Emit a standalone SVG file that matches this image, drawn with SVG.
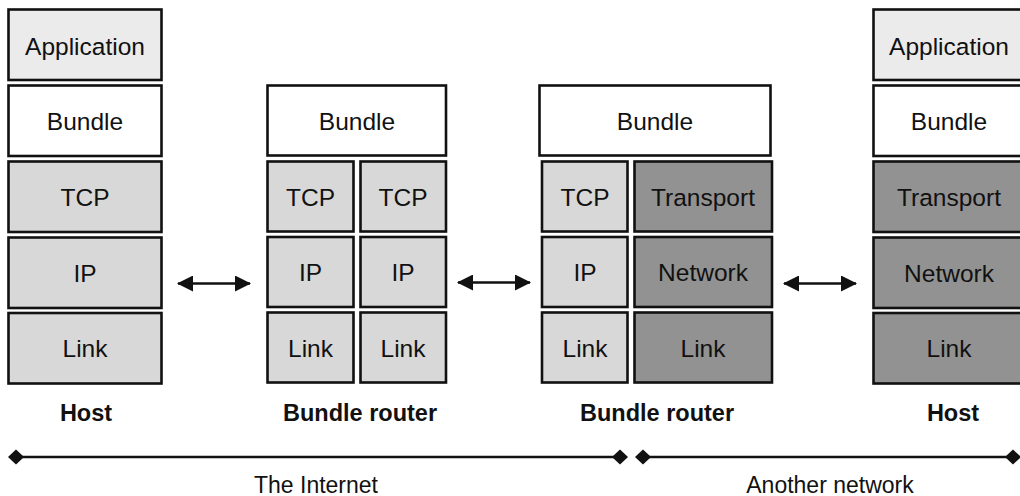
<svg xmlns="http://www.w3.org/2000/svg" width="1020" height="496" viewBox="0 0 1020 496">
<defs>
<style>
.b{stroke:#111;stroke-width:2.6}
.app{fill:#ebebeb}
.bun{fill:#fff}
.lt{fill:#d8d8d8}
.dk{fill:#929292}
text{font-family:"Liberation Sans",Arial,Helvetica,sans-serif;font-size:24.5px;fill:#111;text-anchor:middle}
.lbl{font-weight:bold;font-size:23.5px}
.net{font-size:23px}
.conn{stroke:#111;stroke-width:2.5;fill:none}
</style>
<marker id="ah" viewBox="0 0 16 16" refX="15" refY="8" markerWidth="16" markerHeight="16" markerUnits="userSpaceOnUse" orient="auto-start-reverse">
<path d="M0,0 L16,8 L0,16 Z" fill="#111"/>
</marker>
<marker id="dm" viewBox="0 0 16 16" refX="8" refY="8" markerWidth="16" markerHeight="16" markerUnits="userSpaceOnUse" orient="auto">
<path d="M0,8 L8,0.5 L16,8 L8,15.5 Z" fill="#111"/>
</marker>
</defs>
<rect width="1020" height="496" fill="#fff"/>

<g id="host-left">
<rect class="b app" x="8.5" y="9.5" width="153" height="70.5"/>
<text x="85" y="55">Application</text>
<rect class="b bun" x="8.5" y="85.5" width="153" height="70.5"/>
<text x="85" y="129.5">Bundle</text>
<rect class="b lt" x="8.5" y="161.5" width="153" height="70.5"/>
<text x="85" y="205.5">TCP</text>
<rect class="b lt" x="8.5" y="237.5" width="153" height="70.5"/>
<text x="85" y="281.5">IP</text>
<rect class="b lt" x="8.5" y="313" width="153" height="70.5"/>
<text x="85" y="357">Link</text>
<text class="lbl" x="86" y="421">Host</text>
</g>

<g id="router-1">
<rect class="b bun" x="267.5" y="85.5" width="178.5" height="70"/>
<text x="357" y="129.5">Bundle</text>
<rect class="b lt" x="267.5" y="161.5" width="86" height="70"/>
<text x="310.5" y="205.5">TCP</text>
<rect class="b lt" x="360.5" y="161.5" width="85.5" height="70"/>
<text x="403" y="205.5">TCP</text>
<rect class="b lt" x="267.5" y="237" width="86" height="70"/>
<text x="310.5" y="281">IP</text>
<rect class="b lt" x="360.5" y="237" width="85.5" height="70"/>
<text x="403" y="281">IP</text>
<rect class="b lt" x="267.5" y="312.5" width="86" height="70"/>
<text x="310.5" y="357">Link</text>
<rect class="b lt" x="360.5" y="312.5" width="85.5" height="70"/>
<text x="403" y="357">Link</text>
<text class="lbl" x="360" y="421">Bundle router</text>
</g>

<g id="router-2">
<rect class="b bun" x="539.5" y="85.5" width="231" height="70"/>
<text x="655" y="129.5">Bundle</text>
<rect class="b lt" x="542" y="161.5" width="85.5" height="70"/>
<text x="585" y="205.5">TCP</text>
<rect class="b dk" x="634.5" y="161.5" width="137.5" height="70"/>
<text x="703" y="205.5">Transport</text>
<rect class="b lt" x="542" y="237" width="85.5" height="70"/>
<text x="585" y="281">IP</text>
<rect class="b dk" x="634.5" y="237" width="137.5" height="70"/>
<text x="703" y="281">Network</text>
<rect class="b lt" x="542" y="312.5" width="85.5" height="70"/>
<text x="585" y="357">Link</text>
<rect class="b dk" x="634.5" y="312.5" width="137.5" height="70"/>
<text x="703" y="357">Link</text>
<text class="lbl" x="657" y="421">Bundle router</text>
</g>

<g id="host-right">
<rect class="b app" x="873.5" y="9.5" width="153" height="70.5"/>
<text x="949" y="55">Application</text>
<rect class="b bun" x="873.5" y="85.5" width="153" height="70.5"/>
<text x="949" y="129.5">Bundle</text>
<rect class="b dk" x="873.5" y="161.5" width="153" height="70.5"/>
<text x="949" y="205.5">Transport</text>
<rect class="b dk" x="873.5" y="237.5" width="153" height="70.5"/>
<text x="949" y="281.5">Network</text>
<rect class="b dk" x="873.5" y="313" width="153" height="70.5"/>
<text x="949" y="357">Link</text>
<text class="lbl" x="953" y="421">Host</text>
</g>

<g id="connectors">
<line class="conn" x1="178" y1="283.5" x2="250" y2="283.5" marker-start="url(#ah)" marker-end="url(#ah)"/>
<line class="conn" x1="458" y1="282.5" x2="530" y2="282.5" marker-start="url(#ah)" marker-end="url(#ah)"/>
<line class="conn" x1="784" y1="283.5" x2="856" y2="283.5" marker-start="url(#ah)" marker-end="url(#ah)"/>
<line class="conn" x1="16" y1="457" x2="620" y2="457" marker-start="url(#dm)" marker-end="url(#dm)"/>
<line class="conn" x1="643" y1="457" x2="1013" y2="457" marker-start="url(#dm)" marker-end="url(#dm)"/>
</g>

<g id="network-labels">
<text class="net" x="316" y="493">The Internet</text>
<text class="net" x="830" y="493">Another network</text>
</g>
</svg>
